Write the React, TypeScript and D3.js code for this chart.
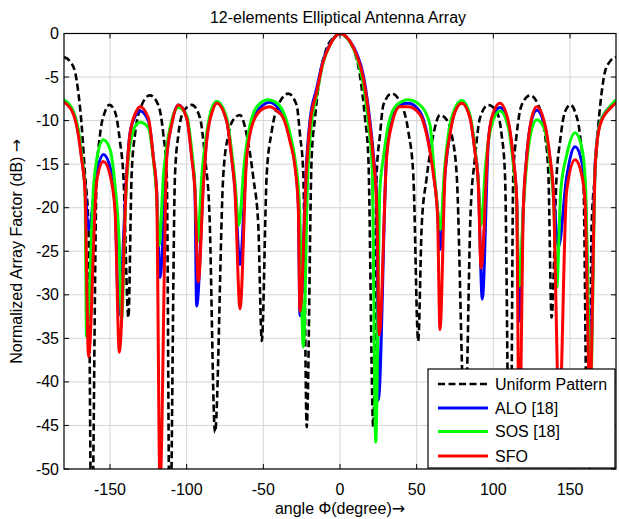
import React from "react";
import * as d3 from "d3";

const W = 619;
const H = 519;
const PL = 64, PR = 616, PT = 33.5, PB = 469;

const title = "12-elements Elliptical Antenna Array";
const xLabel = "angle Φ(degree)";
const yLabel = "Normalized Array Factor (dB) ";
const arrow = "→";
const xTicks = [-150, -100, -50, 0, 50, 100, 150];
const yTicks = [0, -5, -10, -15, -20, -25, -30, -35, -40, -45, -50];

const uniformAngles = [
  -180, -176.1, -172.8, -170.7, -168.5, -166.3, -164.1, -162, -158.7, -156.5, -153.3, -150.4, -146.7, -143.5, -141.3, -138,
  -135.9, -133.7, -129.3, -124, -118.5, -115.2, -113, -111, -107.6, -105.4, -102.2, -96.7, -91.3, -88, -85.2, -81.5,
  -76.1, -72.8, -69.6, -65.2, -60.9, -56.5, -53.3, -51, -47.8, -44.6, -40.2, -33.7, -28.3, -26.1, -23.9, -21.7,
  -18.5, -16.3, -13, -8.7, -4.3, 0,
  4.3, 8.7, 13, 16.3, 18.5, 21.7, 23.9, 26.1, 28.3, 33.7, 40.2, 44.6, 47.8, 51, 53.3, 56.5, 60.9, 65.2, 69.6, 72.8, 76.1,
  81.5, 85.2, 88, 91.3, 96.7, 102.2, 105.4, 107.6, 111, 113, 115.2, 118.5, 124, 129.3, 133.7, 135.9, 138, 141.3, 143.5,
  146.7, 150.4, 153.3, 156.5, 158.7, 162, 164.1, 166.3, 168.5, 170.7, 172.8, 176.1, 180,
];
const uniformValues = [
  -2.7, -3.2, -4.4, -6.7, -10.5, -16.2, -22, -60, -16.2, -11.6, -9, -8.2, -9, -12.4, -16.2, -32.6,
  -16.2, -11.6, -8.2, -7.1, -8.2, -11.6, -16.2, -60, -16.2, -11.6, -9, -8.2, -9.7, -14.3, -20.4, -45.8,
  -16.2, -11.6, -9.9, -9.35, -11.6, -16.6, -22, -35.3, -16.2, -11.3, -8.2, -6.9, -8.2, -11.6, -16.2, -45.2,
  -14.3, -9.7, -4.8, -1.7, -0.5, 0,
  -0.5, -1.7, -4.8, -9.7, -14.3, -45.2, -16.2, -11.6, -8.2, -6.9, -8.2, -11.3, -16.2, -35.3, -22, -16.6, -11.6, -9.35, -9.9, -11.6, -16.2,
  -45.8, -20.4, -14.3, -9.7, -8.2, -9, -11.6, -16.2, -60, -16.2, -11.6, -8.2, -7.1, -8.2, -11.6, -16.2, -32.6, -16.2, -12.4,
  -9, -8.2, -9, -11.6, -16.2, -60, -22, -16.2, -10.5, -6.7, -4.4, -3.2, -2.7,
];

const aloAngles = [
  -180, -174, -170.7, -168.6, -166.3, -164, -158.7, -154.3, -150, -146.7, -144.3, -139.1, -137, -133, -130.4, -125,
  -121.7, -119.6, -117.4, -113, -109.8, -105.4, -100, -96.7, -94.6, -93.5, -89.1, -87, -83, -80.4, -73.9, -70.7,
  -68.5, -65.2, -60.9, -56.5, -50, -45.7, -41, -37, -32.6, -29.3, -27.2, -26.1, -21.7, -19.6, -15.2, -10.9,
  -6.5, 0, 6.5, 10.9, 15.2, 18.5, 21.7, 24, 25, 30.4, 33.7, 39.1, 44.6, 52.2, 56.5, 60.9, 63.6, 65.2, 68.5,
  71.7, 75, 79.4, 84.8, 88, 90.2, 92.8, 96.7, 98.9, 104.3, 109.8, 113, 115.2, 116.9, 119.6, 121.7, 125, 128.3,
  133.7, 137, 139.1, 142.5, 147.8, 153.3, 157.6, 159.8, 163, 166.5, 169.6, 176.1, 180,
];
const aloValues = [
  -7.7, -9.0, -11.3, -14, -17.5, -22.5, -16, -13.9, -15.3, -19.5, -32.3, -16, -11.5, -9.3, -8.9, -10,
  -14.3, -18, -28, -14, -10.3, -8.2, -9.6, -14, -18, -31.3, -17, -12.2, -8.6, -7.9, -10, -14,
  -17.8, -26.5, -14, -9.8, -8.2, -7.9, -8.4, -9.3, -12, -15, -19.5, -32.4, -14.5, -10, -6.3, -3,
  -1.2, 0, -0.9, -2.3, -4.8, -8.6, -13.8, -19.5, -42.1, -13.8, -10, -8.1, -8.0, -9.0, -11.3, -15.8, -20.3, -24.8, -16,
  -11.4, -8.9, -7.9, -9.6, -13.4, -17, -30.5, -12.6, -9.9, -8.5, -10.4, -14.5, -19, -33, -19.8, -14.2, -9.9, -8.8,
  -10.8, -14.5, -18, -24.5, -16.5, -13, -14.7, -17.5, -39, -14.6, -10.3, -8.4, -7.8,
];

const sosAngles = [
  -180, -174, -170.7, -168.6, -166.3, -165.3, -160.5, -158.7, -154.3, -150, -146.7, -144, -142.4, -140, -137.5, -133,
  -130.4, -125, -121.7, -119.6, -118, -115, -113, -109.8, -105.4, -100, -96.7, -94.6, -93, -90, -87, -83,
  -80.4, -73.9, -70.7, -68.5, -66, -62.5, -58, -52, -47, -41, -37, -32.6, -29.3, -26.5, -23.9, -21,
  -19, -15, -10.9, -6.5, 0, 6.5, 10.9, 15, 18, 21, 23.3, 26, 28.3, 31.5, 37, 44.6, 53.3, 58.7, 61, 63, 65.5,
  68, 71, 75, 79.4, 84.8, 88, 90.2, 92, 95, 98.9, 104.3, 109.8, 113, 115.2, 117, 119.6, 121.7, 125, 128.3,
  133, 137, 139.5, 141.3, 144, 147.8, 153.3, 157.6, 160, 163.5, 166.5, 169.6, 176.1, 180,
];
const sosValues = [
  -7.6, -8.9, -11.0, -13.8, -18, -34.8, -17, -14.5, -12.2, -13.3, -17.5, -24, -32.8, -20, -13.5, -10.5,
  -10.2, -10.8, -14.5, -18.5, -24.3, -16, -13, -10, -8.5, -9.4, -13.4, -17.5, -24, -16, -11.5, -8.3,
  -7.8, -9.7, -13.5, -17, -22, -15, -10, -8.0, -7.6, -8.0, -9.0, -11.5, -14.5, -19.5, -36, -16,
  -11, -6.9, -3.3, -1.3, 0, -1.0, -2.7, -5.6, -9.5, -15.5, -46.9, -18, -14.3, -10.5, -8.2, -7.6, -8.4, -10.5, -15, -19, -22.5,
  -16, -11.2, -8.6, -7.7, -9.4, -13.2, -17, -22, -15, -10.5, -8.9, -10.8, -15, -19.5, -29, -20, -15, -11, -9.9,
  -10.8, -15, -20, -29.2, -18, -14, -11.4, -13, -17, -40, -15, -10.3, -8.4, -7.6,
];

const sfoAngles = [
  -180, -174, -170.7, -168.6, -166.3, -164, -158.7, -154.3, -150, -146.7, -143.9, -139.1, -137, -133, -130.4, -125,
  -121.7, -119.6, -117.4, -113, -109.8, -105.4, -100, -96.7, -94.6, -92.4, -89.1, -87, -83, -80.4, -73.9, -70.7,
  -68.5, -65.2, -60.9, -56.5, -50, -45.7, -41, -37, -32.6, -29.3, -27.2, -26.1, -21.7, -19.6, -15.2, -10.9,
  -6.5, 0, 6.5, 10.9, 15.2, 18.5, 21.7, 24, 25.6, 30.4, 33.7, 39.1, 44.6, 52.2, 56.5, 60.9, 63.6, 65.2, 68.5,
  71.7, 75, 79.4, 84.8, 88, 90.2, 92, 96.7, 98.9, 104.3, 109.8, 113, 115.2, 116.9, 119.6, 121.7, 125, 128.3,
  133.7, 137, 139.1, 143, 147.8, 153.3, 157.6, 159.8, 163, 166.5, 169.6, 176.1, 180,
];
const sfoValues = [
  -7.9, -9.2, -11.6, -14.3, -18.1, -37.1, -17, -14.7, -16.2, -20.4, -36.6, -16.2, -11.6, -9.0, -8.4, -9.7,
  -14.3, -18.1, -52, -14.3, -10.5, -8.2, -9.7, -14.3, -18.1, -28.5, -17.4, -12.4, -8.8, -8.0, -10.1, -14.3,
  -18.1, -31.6, -14.3, -10.1, -8.6, -8.4, -8.9, -9.7, -12.4, -15.4, -20, -31.9, -15.1, -10.5, -6.7, -3.2,
  -1.3, 0, -0.9, -2.5, -5.1, -9, -14.3, -20, -34.6, -14.3, -10.5, -8.4, -8.4, -9.3, -11.6, -16.2, -20.8, -34, -16.2,
  -11.6, -9, -8.0, -9.7, -13.6, -17.4, -26.9, -12.4, -9.7, -8.0, -10.1, -14.3, -18.9, -48, -20, -14.3, -9.7, -8.4,
  -10.5, -14.3, -18.1, -44, -18.1, -14.5, -16.2, -19.3, -42, -15, -10.5, -8.6, -8.0,
];

const seriesNames = ["Uniform Pattern", "ALO [18]", "SOS [18]", "SFO"];
const seriesColors = ["#000000", "#0000ff", "#00ff00", "#ff0000"];

const FONT = "'Liberation Sans', Arial, sans-serif";

export default function App() {
  const x = d3.scaleLinear().domain([-180, 180]).range([PL, PR]);
  const y = d3.scaleLinear().domain([-50, 0]).range([PB, PT]);
  const line = d3
    .line<[number, number]>()
    .x((d) => x(d[0]))
    .y((d) => y(d[1]))
    .curve(d3.curveMonotoneX);

  const zip = (a: number[], v: number[]) => a.map((t, i) => [t, v[i]] as [number, number]);
  const series = [
    zip(uniformAngles, uniformValues),
    zip(aloAngles, aloValues),
    zip(sosAngles, sosValues),
    zip(sfoAngles, sfoValues),
  ];

  const lx = 428, ly = 369, lw = 187, lh = 99;
  const rowY = [384, 408, 431.5, 456];

  return (
    <svg
      width={W}
      height={H}
      style={{ position: "absolute", left: 0, top: 0, background: "#fff" }}
      fontFamily={FONT}
    >
      <defs>
        <clipPath id="plotclip">
          <rect x={PL} y={PT} width={PR - PL} height={PB - PT} />
        </clipPath>
      </defs>
      <rect x={0} y={0} width={W} height={H} fill="#fff" />
      {xTicks.map((t) => (
        <line key={"gx" + t} x1={x(t)} x2={x(t)} y1={PT} y2={PB} stroke="#d6d6d6" strokeWidth={1} />
      ))}
      {yTicks.map((t) => (
        <line key={"gy" + t} x1={PL} x2={PR} y1={y(t)} y2={y(t)} stroke="#d6d6d6" strokeWidth={1} />
      ))}
      <g clipPath="url(#plotclip)">
        {series.map((s, i) => (
          <path
            key={i}
            d={line(s) || ""}
            fill="none"
            stroke={seriesColors[i]}
            strokeWidth={i === 0 ? 2.6 : 3}
            strokeDasharray={i === 0 ? "7,3.5" : undefined}
            strokeLinejoin="round"
          />
        ))}
      </g>
      <rect x={PL} y={PT} width={PR - PL} height={PB - PT} fill="none" stroke="#000" strokeWidth={1.2} />
      {xTicks.map((t) => (
        <g key={"tx" + t}>
          <line x1={x(t)} x2={x(t)} y1={PB} y2={PB - 5} stroke="#000" />
          <line x1={x(t)} x2={x(t)} y1={PT} y2={PT + 5} stroke="#000" />
          <text x={x(t)} y={495} textAnchor="middle" fontSize={16} fill="#000">
            {t}
          </text>
        </g>
      ))}
      {yTicks.map((t) => (
        <g key={"ty" + t}>
          <line x1={PL} x2={PL + 5} y1={y(t)} y2={y(t)} stroke="#000" />
          <line x1={PR} x2={PR - 5} y1={y(t)} y2={y(t)} stroke="#000" />
          <text x={59} y={y(t) + 5.5} textAnchor="end" fontSize={16} fill="#000">
            {t}
          </text>
        </g>
      ))}
      <text x={338} y={23} textAnchor="middle" fontSize={16} fill="#000">
        {title}
      </text>
      <text x={340} y={514} textAnchor="middle" fontSize={16} fill="#000">
        {xLabel}
        <tspan fontFamily="'DejaVu Sans', sans-serif">{arrow}</tspan>
      </text>
      <text
        transform={`translate(22,${(PT + PB) / 2}) rotate(-90)`}
        textAnchor="middle"
        fontSize={16}
        fill="#000"
      >
        {yLabel}
        <tspan fontFamily="'DejaVu Sans', sans-serif">{arrow}</tspan>
      </text>
      <rect x={lx} y={ly} width={lw} height={lh} fill="#fff" stroke="#000" strokeWidth={1.2} />
      {seriesNames.map((n, i) => (
        <g key={n}>
          <line
            x1={438}
            x2={488}
            y1={rowY[i]}
            y2={rowY[i]}
            stroke={seriesColors[i]}
            strokeWidth={i === 0 ? 2.6 : 3}
            strokeDasharray={i === 0 ? "7,3.5" : undefined}
          />
          <text x={495} y={rowY[i] + 5.5} fontSize={16} fill="#000">
            {n}
          </text>
        </g>
      ))}
    </svg>
  );
}
